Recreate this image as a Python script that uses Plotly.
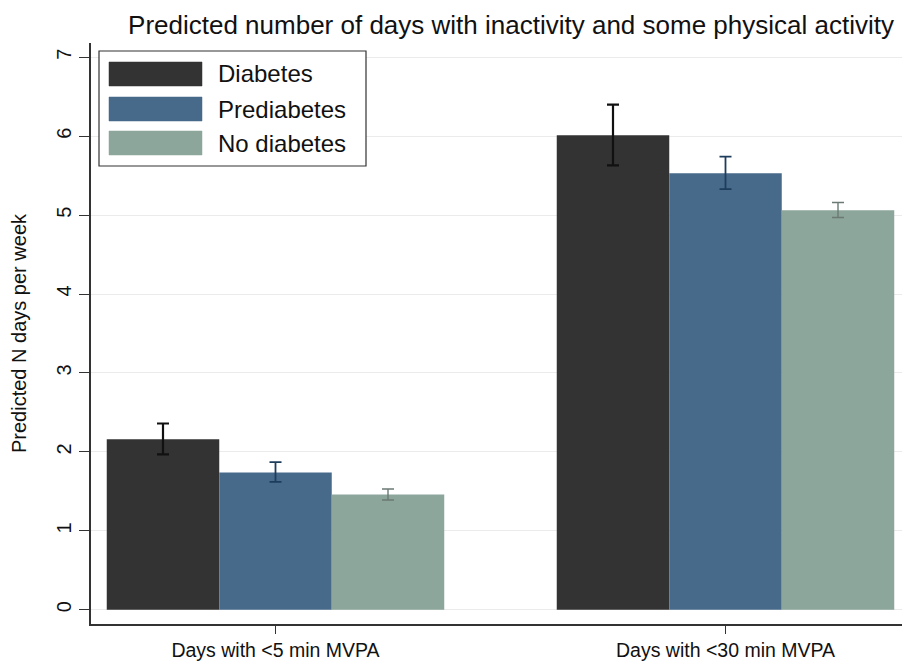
import plotly.graph_objects as go

categories = ["Days with <5 min MVPA", "Days with <30 min MVPA"]
series_names = ["Diabetes", "Prediabetes", "No diabetes"]
values = {
    "Diabetes": [2.16, 6.01],
    "Prediabetes": [1.74, 5.53],
    "No diabetes": [1.46, 5.06],
}
upper = {
    "Diabetes": [2.36, 6.40],
    "Prediabetes": [1.87, 5.74],
    "No diabetes": [1.53, 5.16],
}
lower = {
    "Diabetes": [1.97, 5.63],
    "Prediabetes": [1.62, 5.33],
    "No diabetes": [1.39, 4.97],
}
y_ticks = [0, 1, 2, 3, 4, 5, 6, 7]

bar_colors = {"Diabetes": "#333333", "Prediabetes": "#476a8b", "No diabetes": "#8ca69b"}
err_colors = {"Diabetes": "#111111", "Prediabetes": "#1e3c5c", "No diabetes": "#6b7a74"}
err_thick = {"Diabetes": 2.2, "Prediabetes": 1.8, "No diabetes": 1.4}

fig = go.Figure()
for name in series_names:
    v = values[name]
    fig.add_trace(go.Bar(
        x=categories, y=v, name=name,
        marker=dict(color=bar_colors[name], line=dict(width=0)),
        error_y=dict(
            type="data", symmetric=False,
            array=[u - a for u, a in zip(upper[name], v)],
            arrayminus=[a - l for l, a in zip(lower[name], v)],
            color=err_colors[name], thickness=err_thick[name], width=6,
        ),
        showlegend=False,
    ))

FONT = "Liberation Sans, Arial, Helvetica, sans-serif"
BODY = 8  # default page body margin in the browser
FW, FH = 910 - BODY, 663 - BODY

fig.update_layout(
    width=FW, height=FH,
    margin=dict(l=91 - BODY, r=0, t=43 - BODY, b=39),
    paper_bgcolor="white", plot_bgcolor="white",
    barmode="group", bargap=0.25, bargroupgap=0,
    font=dict(family=FONT, color="#111111"),
    title=dict(
        text="Predicted number of days with inactivity and some physical activity",
        x=(511 - BODY) / FW, xref="container", xanchor="center",
        y=1 - (25 - BODY) / FH, yref="container", yanchor="middle",
        font=dict(size=26, family=FONT, color="#111111"),
    ),
    xaxis=dict(
        type="category", range=[-0.41, 1.41],
        showline=True, linecolor="#333333", linewidth=1.5,
        ticks="outside", ticklen=8, tickcolor="#333333", tickwidth=1,
        tickfont=dict(size=19.5, family=FONT, color="#111111"),
        showgrid=False, mirror=False,
    ),
    yaxis=dict(
        range=[-0.18, 7.18], tickvals=y_ticks,
        showline=True, linecolor="#333333", linewidth=1.5,
        ticks="outside", ticklen=10, tickcolor="#333333", tickwidth=1,
        tickangle=-90,
        tickfont=dict(size=20, family=FONT, color="#111111"),
        showgrid=True, gridcolor="#ebebeb", gridwidth=1,
        zeroline=False,
        title=dict(text="Predicted N days per week", font=dict(size=20, family=FONT, color="#111111"), standoff=28),
    ),
)

# Legend drawn with paper-referenced shapes (page pixel helpers)
l, t, pw, ph = 91, 43, 910 - 91, 624 - 43
def px(x):
    return (x - l) / pw
def py(y):
    return 1 - (y - t) / ph

fig.add_shape(type="rect", xref="paper", yref="paper",
              x0=px(99), x1=px(366), y0=py(166), y1=py(51),
              line=dict(color="#333333", width=1.2), fillcolor="white", layer="above")
row_tops = [62, 97, 131]
for name, top in zip(series_names, row_tops):
    fig.add_shape(type="rect", xref="paper", yref="paper",
                  x0=px(109), x1=px(202), y0=py(top + 24), y1=py(top),
                  line=dict(color=bar_colors[name], width=0.5), fillcolor=bar_colors[name], layer="above")
    fig.add_annotation(text=name, xref="paper", yref="paper",
                       x=px(216), y=py(top + 12), xanchor="left", yanchor="middle",
                       showarrow=False, font=dict(size=24, family=FONT, color="#111111"))

fig.write_html("out.html")
